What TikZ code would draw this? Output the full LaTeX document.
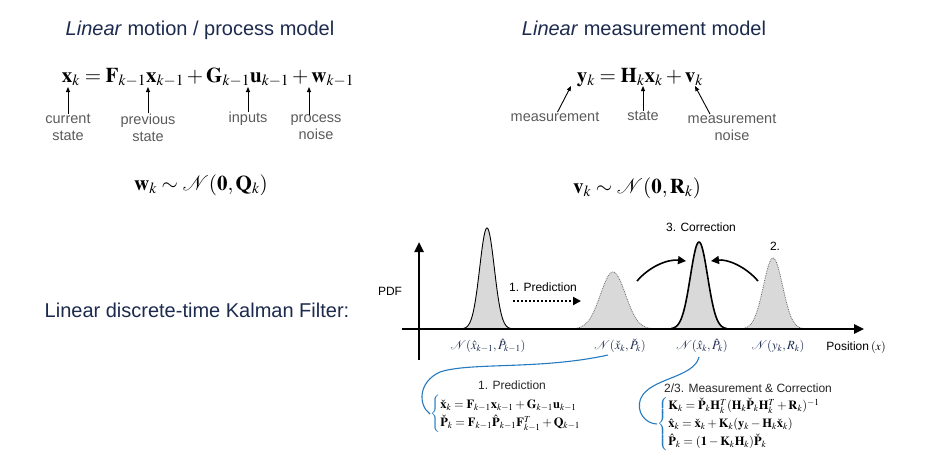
\documentclass[tikz,border=0pt]{standalone}
\usepackage{amsmath,amssymb}
\usepackage{mathptmx}
\usepackage[no-math]{fontspec}
\setmainfont{Liberation Sans}
\usepackage{xcolor}
\usepackage{tikz}
\usetikzlibrary{arrows.meta,positioning}

\definecolor{titlecol}{RGB}{28,42,78}
\definecolor{notecol}{RGB}{90,90,90}
\definecolor{bluecurve}{RGB}{38,122,192}
\definecolor{pdffill}{RGB}{217,217,217}

\tikzset{
  title/.style={font=\fontsize{20}{24}\selectfont, text=titlecol, inner sep=0pt},
  eqn/.style={font=\fontsize{21}{25}\selectfont, inner sep=0pt},
  note/.style={font=\fontsize{14.5}{17}\selectfont, text=notecol, align=center, inner sep=0pt},
  ptr/.style={line width=0.9pt, -{Triangle[length=5pt,width=4pt]}},
  plottext/.style={font=\fontsize{12}{14}\selectfont, inner sep=0pt},
  pdflabel/.style={font=\fontsize{12.5}{15}\selectfont, text=titlecol, inner sep=0pt},
  axis/.style={line width=2.4pt, -{Triangle[length=10pt,width=9pt]}},
  solidpdf/.style={fill=pdffill, draw=black, line width=0.9pt},
  dottedpdf/.style={fill=pdffill, draw=black!60, line width=0.8pt, densely dotted},
  bendarrow/.style={line width=1.6pt, -{Triangle[length=8pt,width=8pt]}},
  stepeq/.style={font=\fontsize{12.5}{15}\selectfont, inner sep=0pt},
  link/.style={bluecurve, line width=1.1pt}
}

\begin{document}
\begin{tikzpicture}[x=1pt, y=-1pt]
    \useasboundingbox (0,0) rectangle (925,472);

    % Motion model
    \node[title, anchor=base] (ttlMotion) at (200,35) {\textit{Linear} motion / process model};
    \node[eqn, anchor=base] (eqMotion) at (208,82) {$\mathbf{x}_k = \mathbf{F}_{k-1}\mathbf{x}_{k-1} + \mathbf{G}_{k-1}\mathbf{u}_{k-1} + \mathbf{w}_{k-1}$};
    \node[note] (lblCurrent) at (68,127.5) {current\\state};
    \node[note] (lblPrevious) at (148,127.5) {previous\\state};
    \node[note] (lblInputs) at (248,119) {inputs};
    \node[note] (lblProcNoise) at (316,127.5) {process\\noise};
    \coordinate (tipCurrent) at (68,87);
    \coordinate (tipPrevious) at (148,87);
    \coordinate (tipInputs) at (248,87);
    \coordinate (tipProcNoise) at (309,87);
    \draw[ptr] (lblCurrent) -- (tipCurrent);
    \draw[ptr] (lblPrevious) -- (tipPrevious);
    \draw[ptr] (lblInputs) -- (tipInputs);
    \draw[ptr] ([xshift=-7pt]lblProcNoise.north) -- (tipProcNoise);
    \node[eqn, anchor=base] (distW) at (201,190) {$\mathbf{w}_k \sim \mathcal{N}(\mathbf{0}, \mathbf{Q}_k)$};

    % Measurement model
    \node[title, anchor=base] (ttlMeas) at (644,35) {\textit{Linear} measurement model};
    \node[eqn, anchor=base] (eqMeas) at (640,82) {$\mathbf{y}_k = \mathbf{H}_k\mathbf{x}_k + \mathbf{v}_k$};
    \node[note] (lblMeasurement) at (555,117) {measurement};
    \node[note] (lblState) at (643,116) {state};
    \node[note] (lblMeasNoise) at (732,127.5) {measurement\\noise};
    \coordinate (tipMeasurement) at (571,86);
    \coordinate (tipState) at (643,86);
    \coordinate (tipMeasNoise) at (695,86);
    \draw[ptr] (lblMeasurement) -- (tipMeasurement);
    \draw[ptr] (lblState) -- (tipState);
    \draw[ptr] ([xshift=-22pt]lblMeasNoise.north) -- (tipMeasNoise);
    \node[eqn, anchor=base] (distV) at (637,193) {$\mathbf{v}_k \sim \mathcal{N}(\mathbf{0}, \mathbf{R}_k)$};

    % Filter label
    \node[title, anchor=base] (ttlKalman) at (197,317) {Linear discrete-time Kalman Filter:};

    % Densities
    \filldraw[solidpdf] plot[domain=463:511, samples=80, smooth] (\x, {329-101*exp(-((\x-487)^2)/(2*7.3^2))});
    \filldraw[dottedpdf] plot[domain=572:654, samples=80, smooth] (\x, {329-57*exp(-((\x-613)^2)/(2*12.5^2))});
    \filldraw[solidpdf, line width=1.6pt] plot[domain=671:727, samples=80, smooth] (\x, {329-87*exp(-((\x-699)^2)/(2*8.6^2))});
    \filldraw[dottedpdf] plot[domain=742:804, samples=80, smooth] (\x, {329-71*exp(-((\x-773)^2)/(2*9.6^2))});

    % Axes
    \coordinate (yBot) at (419,360);
    \coordinate (yTop) at (419,242);
    \coordinate (xLeft) at (402,329);
    \coordinate (xRight) at (864,329);
    \draw[axis] (yBot) -- (yTop);
    \draw[axis] (xLeft) -- (xRight);
    \node[plottext] (lblPDF) at (390,291) {PDF};
    \node[plottext] (lblPos) at (856,347) {Position\,$(x)$};

    % Density labels
    \node[pdflabel] (lblPrior) at (488,346) {$\mathcal{N}(\hat{x}_{k-1}, \hat{P}_{k-1})$};
    \node[pdflabel] (lblPred) at (620,346) {$\mathcal{N}(\check{x}_k, \check{P}_k)$};
    \node[pdflabel] (lblPost) at (702,346) {$\mathcal{N}(\hat{x}_k, \hat{P}_k)$};
    \node[pdflabel] (lblMeasPdf) at (778,346) {$\mathcal{N}(y_k, R_k)$};

    % Steps
    \node[plottext] (lblPredict) at (543,287) {1. Prediction};
    \coordinate (predFrom) at (513,301);
    \coordinate (predTo) at (581,301);
    \draw[line width=2pt, dotted, -{Triangle[length=8pt,width=8pt]}] (predFrom) -- (predTo);
    \node[plottext] (lblCorrect) at (701,227) {3. Correction};
    \node[plottext] (lblMeasStep) at (775,246) {2.};
    \coordinate (corrFromL) at (637,281);
    \coordinate (corrToL) at (686,261);
    \coordinate (corrFromR) at (758,281);
    \coordinate (corrToR) at (711,261);
    \draw[bendarrow] (corrFromL) .. controls (650,266) and (668,259) .. (corrToL);
    \draw[bendarrow] (corrFromR) .. controls (745,266) and (727,259) .. (corrToR);

    % Prediction equations
    \node[plottext, text=black!85] (ttlPredStep) at (512,385) {1. Prediction};
    \node[stepeq, anchor=west] (eqPred) at (430,414) {$\color{bluecurve}\left\{\color{black}\renewcommand{\arraystretch}{1.2}\begin{array}{@{}l@{}}
        \check{\mathbf{x}}_k = \mathbf{F}_{k-1}\mathbf{x}_{k-1} + \mathbf{G}_{k-1}\mathbf{u}_{k-1}\\
        \check{\mathbf{P}}_k = \mathbf{F}_{k-1}\hat{\mathbf{P}}_{k-1}\mathbf{F}_{k-1}^T + \mathbf{Q}_{k-1}
      \end{array}\right.$};
    \draw[link] ([xshift=-12pt,yshift=-9pt]lblPred.center) .. controls (540,370) and (470,362) .. (440,372)
        .. controls (418,382) and (418,405) .. (eqPred.west);

    % Correction equations
    \node[plottext, text=black!85] (ttlCorrStep) at (748,388) {2/3. Measurement \& Correction};
    \node[stepeq, anchor=west] (eqCorr) at (657,424) {$\color{bluecurve}\left\{\color{black}\renewcommand{\arraystretch}{1.2}\begin{array}{@{}l@{}}
        \mathbf{K}_k = \check{\mathbf{P}}_k\mathbf{H}_k^T(\mathbf{H}_k\check{\mathbf{P}}_k\mathbf{H}_k^T + \mathbf{R}_k)^{-1}\\
        \hat{\mathbf{x}}_k = \check{\mathbf{x}}_k + \mathbf{K}_k(\mathbf{y}_k - \mathbf{H}_k\check{\mathbf{x}}_k)\\
        \hat{\mathbf{P}}_k = (\mathbf{1} - \mathbf{K}_k\mathbf{H}_k)\check{\mathbf{P}}_k
      \end{array}\right.$};
    \draw[link] ([xshift=-3pt,yshift=-11pt]lblPost.center) .. controls (694,378) and (650,378) .. (641,398)
        .. controls (635,412) and (646,424) .. (eqCorr.west);
\end{tikzpicture}
\end{document}
